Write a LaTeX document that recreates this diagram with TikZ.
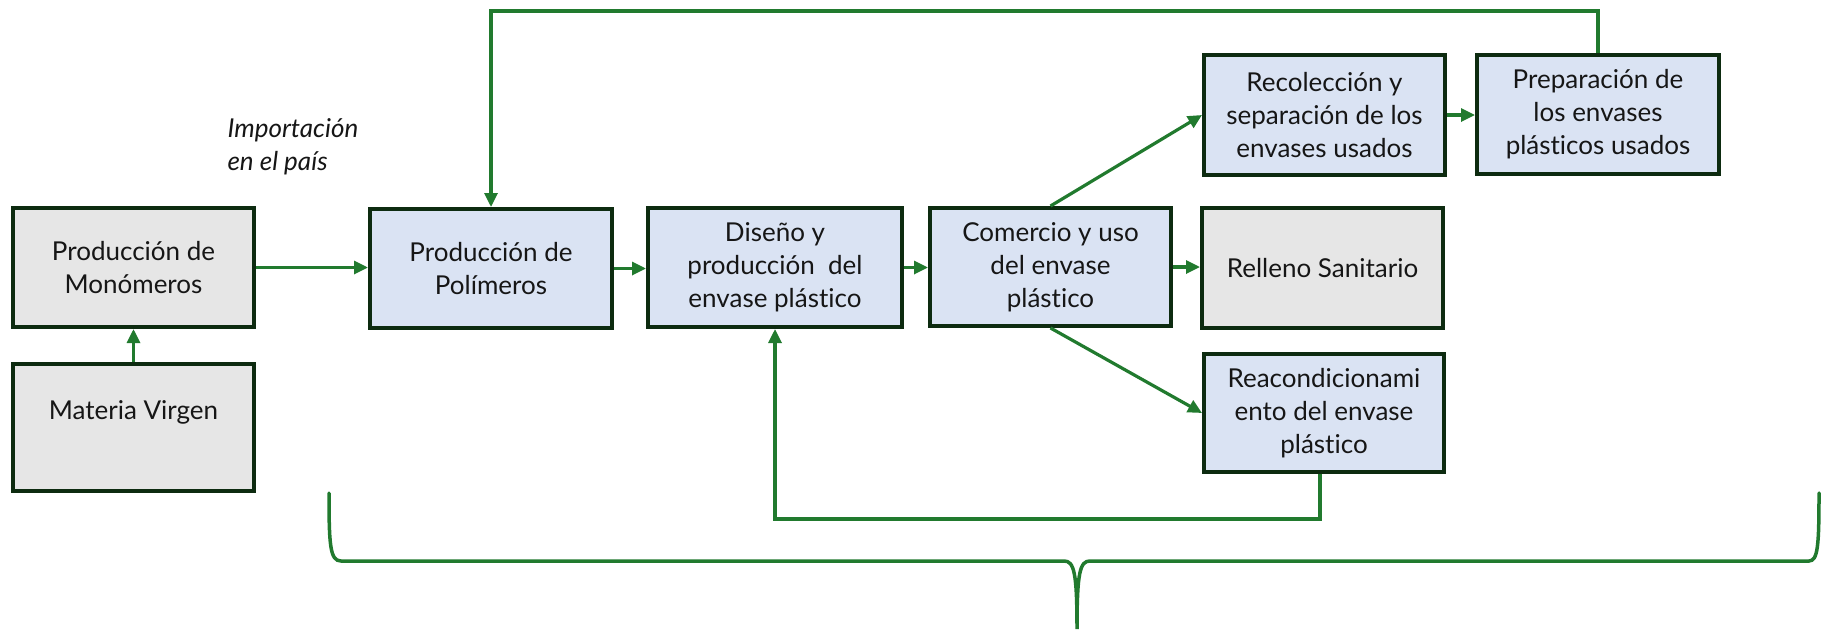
\documentclass[tikz,border=0pt]{standalone}
\usepackage{fontspec}
\setmainfont{Lato}[Ligatures={NoCommon,NoRare}]
\usetikzlibrary{arrows.meta}
\definecolor{boxblue}{HTML}{DAE3F3}
\definecolor{boxgray}{HTML}{E6E6E6}
\definecolor{edgegreen}{HTML}{0D2B10}
\definecolor{flowgreen}{HTML}{217A2E}
\definecolor{ink}{HTML}{161616}

\begin{document}
\begin{tikzpicture}[x=1pt,y=-1pt,
  stage/.style={draw=edgegreen,line width=4pt,rectangle,align=center,
    text=ink,font=\fontsize{26}{33}\selectfont,inner sep=0pt},
  bluebox/.style={stage,fill=boxblue},
  graybox/.style={stage,fill=boxgray},
  flowarrow/.style={draw=flowgreen,line width=3.2pt,
    -{Triangle[length=14pt,width=13pt]}},
  bracepath/.style={draw=flowgreen,line width=3.5pt,line cap=round}]
\useasboundingbox (0,0) rectangle (1821,632);

% process stages
\node[graybox,minimum width=241pt,minimum height=119pt] (mono) at (133.5,267.5)
  {Producción de\\Monómeros};
\node[graybox,minimum width=241pt,minimum height=127pt] (mat) at (133.5,427.5) {};
\node[text=ink,font=\fontsize{26}{33}\selectfont] (matText) at (133.5,412) {Materia Virgen};
\node[bluebox,minimum width=242pt,minimum height=119pt] (poli) at (491,268.5)
  {Producción de\\Polímeros};
\node[bluebox,minimum width=254pt,minimum height=119pt] (dis) at (775,267.5)
  {Diseño y\\producción~ del\\envase plástico};
\node[bluebox,minimum width=241pt,minimum height=118pt] (com) at (1050.5,267)
  {Comercio y uso\\del envase\\plástico};
\node[graybox,minimum width=241pt,minimum height=120pt] (rel) at (1322.5,268)
  {Relleno Sanitario};
\node[bluebox,minimum width=241pt,minimum height=120pt] (rec) at (1324.5,115)
  {Recolección y\\separación de los\\envases usados};
\node[bluebox,minimum width=242pt,minimum height=119pt] (prep) at (1598,114.5)
  {Preparación de\\los envases\\plásticos usados};
\node[bluebox,minimum width=240pt,minimum height=118pt] (rea) at (1324,413)
  {Reacondicionami\\ento del envase\\plástico};

\node[anchor=west,align=left,text=ink,font=\fontsize{26}{33}\selectfont\itshape]
  (imp) at (224,147) {Importación\\en el país};

% helper levels for the return loops
\coordinate (loopTop) at (0,11);
\coordinate (loopBot) at (0,519);

% main flow
\draw[flowarrow] (mat.north) -- (mono.south);
\draw[flowarrow] (mono.east) -- (mono.east -| poli.west);
\draw[flowarrow] (poli.east) -- (poli.east -| dis.west);
\draw[flowarrow] (dis.east) -- (dis.east -| com.west);
\draw[flowarrow] (com.east) -- (com.east -| rel.west);
\draw[flowarrow] (com.north) -- (rec.west);
\draw[flowarrow] (com.south) -- (rea.west);
\draw[flowarrow] (rec.east) -- (rec.east -| prep.west);

% return loops
\draw[flowarrow] (prep.north) -- (prep.north |- loopTop) -| (poli.north);
\draw[flowarrow] ([xshift=-4pt]rea.south) -- ([xshift=-4pt]rea.south |- loopBot) -| (dis.south);

% grouping brace
\draw[bracepath] (329,493) .. controls (329,545) and (330,561) .. (341,561)
  -- (1064,561) .. controls (1074,561) and (1077,572) .. (1077,629)
  .. controls (1077,572) and (1080,561) .. (1090,561)
  -- (1809,561) .. controls (1818,561) and (1819,545) .. (1819,493);
\end{tikzpicture}
\end{document}
